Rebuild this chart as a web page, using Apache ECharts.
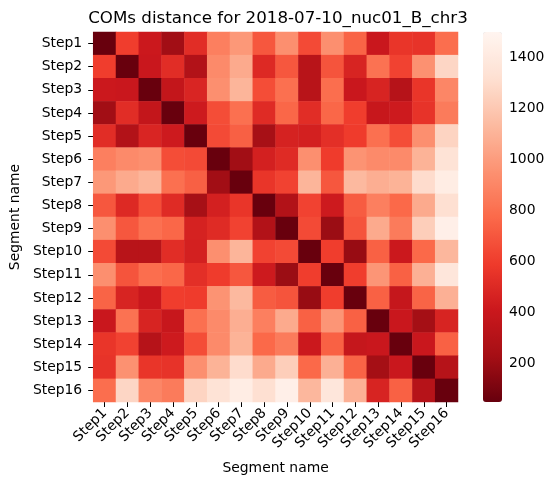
<!DOCTYPE html>
<html>
<head>
<meta charset="utf-8">
<script src="https://cdn.jsdelivr.net/npm/echarts@6/dist/echarts.min.js"></script>
<style>
  html, body { margin: 0; padding: 0; background: #fff; }
  #chart { width: 556px; height: 486px; }
</style>
</head>
<body>
<div id="chart"></div>
<script>
// segment labels (same on both axes)
var steps = ['Step1', 'Step2', 'Step3', 'Step4', 'Step5', 'Step6', 'Step7', 'Step8',
  'Step9', 'Step10', 'Step11', 'Step12', 'Step13', 'Step14', 'Step15', 'Step16'];

// COM distances, one row per segment
var distances = [
  [50, 600, 410, 220, 520, 870, 980, 700, 940, 650, 940, 750, 400, 560, 550, 790],
  [600, 50, 400, 520, 290, 920, 1060, 500, 700, 320, 690, 470, 810, 620, 950, 1270],
  [410, 400, 50, 370, 480, 940, 1110, 660, 800, 320, 790, 400, 470, 310, 560, 900],
  [220, 520, 370, 50, 420, 660, 800, 510, 760, 520, 760, 600, 390, 420, 550, 850],
  [520, 290, 480, 420, 50, 650, 735, 240, 460, 450, 530, 590, 800, 660, 940, 1260],
  [870, 920, 940, 660, 650, 50, 220, 450, 510, 940, 590, 960, 920, 920, 1100, 1340],
  [980, 1060, 1110, 800, 735, 220, 50, 560, 620, 1110, 700, 1130, 1080, 1100, 1300, 1430],
  [700, 500, 660, 510, 240, 450, 560, 50, 290, 620, 420, 720, 870, 770, 1060, 1320],
  [940, 700, 800, 760, 460, 510, 620, 290, 50, 650, 200, 690, 1060, 850, 1230, 1450],
  [650, 320, 320, 520, 450, 940, 1110, 620, 650, 50, 600, 190, 740, 410, 770, 1120],
  [940, 690, 790, 760, 530, 590, 700, 420, 200, 600, 50, 600, 970, 740, 1090, 1370],
  [750, 470, 400, 600, 590, 960, 1130, 720, 690, 190, 600, 50, 740, 380, 750, 1090],
  [400, 810, 470, 390, 800, 920, 1080, 870, 1060, 740, 970, 740, 50, 400, 230, 470],
  [560, 620, 310, 420, 660, 920, 1100, 770, 850, 410, 740, 380, 400, 50, 400, 740],
  [550, 950, 560, 550, 940, 1100, 1300, 1060, 1230, 770, 1090, 750, 230, 400, 50, 310],
  [790, 1270, 900, 850, 1260, 1340, 1430, 1320, 1450, 1120, 1370, 1090, 470, 740, 310, 50]
];

// colour bar range and ticks
var colorMin = 47;
var colorMax = 1500;
var colorTicks = [200, 400, 600, 800, 1000, 1200, 1400];

var cells = [];
for (var r = 0; r < distances.length; r++) {
  for (var c = 0; c < distances[r].length; c++) {
    cells.push([c, r, distances[r][c]]);
  }
}

var font = 'DejaVu Sans';
var fs = 13.9;
var chart = echarts.init(document.getElementById('chart'));

chart.setOption({
  animation: false,
  backgroundColor: '#fff',
  textStyle: { fontFamily: font, color: '#000' },
  title: {
    text: 'COMs distance for 2018-07-10_nuc01_B_chr3',
    left: 273, top: 5, textAlign: 'center',
    textStyle: { fontFamily: font, fontSize: 16.7, fontWeight: 'normal', color: '#000' }
  },
  grid: [
    { left: 89, top: 32, width: 369, height: 370 },
    { left: 483, top: 32, width: 19, height: 370 }
  ],
  xAxis: [{
    gridIndex: 0,
    type: 'category',
    data: steps,
    axisLine: { show: false },
    axisTick: { show: true, alignWithLabel: true, length: 5, lineStyle: { color: '#000' } },
    axisLabel: { rotate: 45, margin: 9, fontSize: fs, color: '#000', interval: 0 },
    name: 'Segment name',
    nameLocation: 'middle',
    nameGap: 59,
    nameTextStyle: { fontSize: fs, color: '#000' }
  }, {
    gridIndex: 1,
    type: 'value',
    show: false
  }],
  yAxis: [{
    gridIndex: 0,
    type: 'category',
    data: steps,
    inverse: true,
    axisLine: { show: false },
    axisTick: { show: true, alignWithLabel: true, length: 5, lineStyle: { color: '#000' } },
    axisLabel: { margin: 11, fontSize: fs, color: '#000', interval: 0 },
    name: 'Segment name',
    nameLocation: 'middle',
    nameGap: 65,
    nameRotate: 90,
    nameTextStyle: { fontSize: fs, color: '#000' }
  }, {
    gridIndex: 1,
    type: 'value',
    position: 'right',
    min: colorMin,
    max: colorMax,
    splitLine: { show: false },
    axisLine: { show: false },
    axisTick: { show: true, length: 5, customValues: colorTicks, lineStyle: { color: '#000' } },
    axisLabel: {
      margin: 7, fontSize: fs, color: '#000', customValues: colorTicks,
      formatter: function (v) { return String(v); }
    }
  }],
  visualMap: {
    type: 'continuous',
    min: colorMin,
    max: colorMax,
    seriesIndex: 0,
    calculable: false,
    hoverLink: false,
    orient: 'vertical',
    left: 483,
    top: 32,
    padding: 0,
    itemWidth: 19,
    itemHeight: 370,
    text: null,
    inRange: {
      color: ['#67000d', '#a50f15', '#cb181d', '#ef3b2c', '#fb6a4a',
        '#fc9272', '#fcbba1', '#fee0d2', '#fff5f0']
    }
  },
  series: [{
    type: 'heatmap',
    xAxisIndex: 0,
    yAxisIndex: 0,
    data: cells,
    itemStyle: { borderWidth: 0 },
    emphasis: { disabled: true }
  }]
});
</script>
</body>
</html>
